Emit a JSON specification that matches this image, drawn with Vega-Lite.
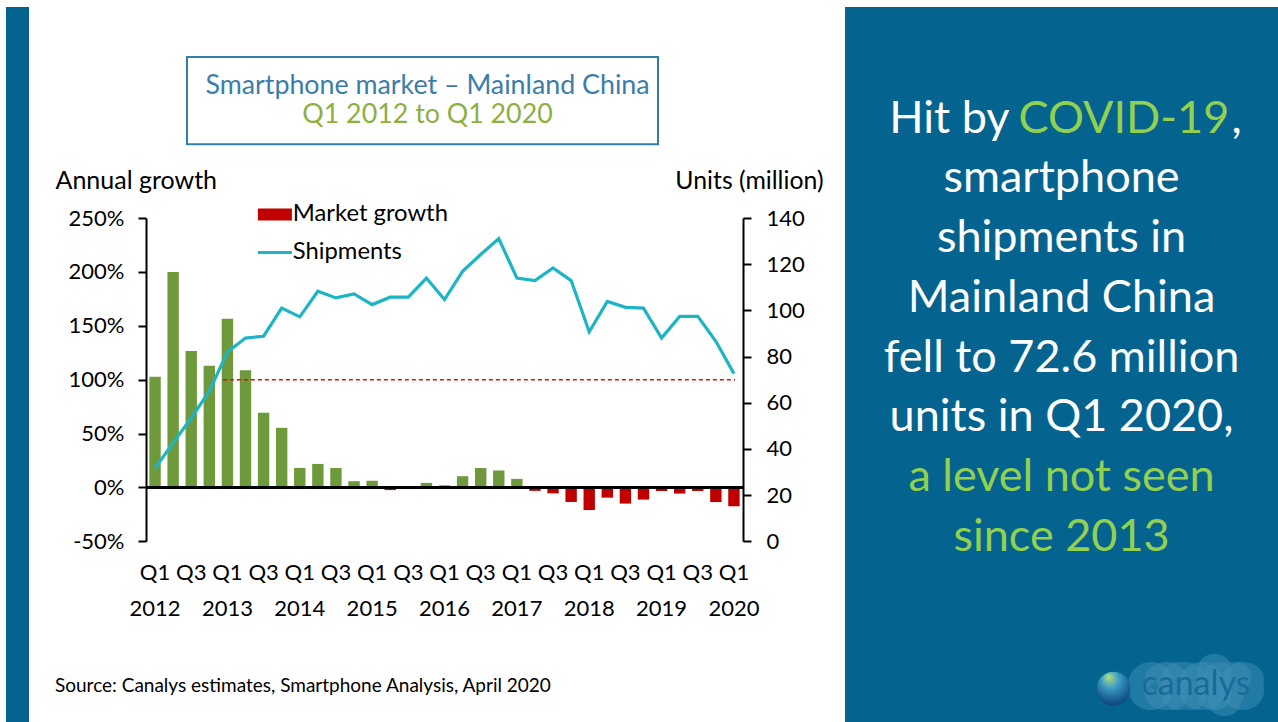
{
  "$schema": "https://vega.github.io/schema/vega-lite/v6.json",
  "background": "white",
  "padding": {"left": 6, "top": 7, "right": 0, "bottom": 0},
  "config": {
    "font": "Lato",
    "view": {"stroke": null},
    "axis": {"grid": false, "labelColor": "#000", "titleColor": "#000", "labelFont": "Lato", "titleFont": "Lato"}
  },
  "datasets": {
    "quarters": [
      {"quarter": "Q1 2012", "growth": 102.6, "shipments": 31.7},
      {"quarter": "Q2 2012", "growth": 200.0, "shipments": 42.6},
      {"quarter": "Q3 2012", "growth": 126.5, "shipments": 53.4},
      {"quarter": "Q4 2012", "growth": 112.8, "shipments": 65.0},
      {"quarter": "Q1 2013", "growth": 156.5, "shipments": 82.0},
      {"quarter": "Q2 2013", "growth": 108.8, "shipments": 88.0},
      {"quarter": "Q3 2013", "growth": 69.2, "shipments": 88.8},
      {"quarter": "Q4 2013", "growth": 55.3, "shipments": 101.0},
      {"quarter": "Q1 2014", "growth": 18.1, "shipments": 97.2},
      {"quarter": "Q2 2014", "growth": 21.8, "shipments": 108.3},
      {"quarter": "Q3 2014", "growth": 18.0, "shipments": 105.4},
      {"quarter": "Q4 2014", "growth": 5.8, "shipments": 107.1},
      {"quarter": "Q1 2015", "growth": 6.2, "shipments": 102.5},
      {"quarter": "Q2 2015", "growth": -2.5, "shipments": 105.7},
      {"quarter": "Q3 2015", "growth": 0.3, "shipments": 105.7},
      {"quarter": "Q4 2015", "growth": 4.2, "shipments": 114.0},
      {"quarter": "Q1 2016", "growth": 2.0, "shipments": 104.7},
      {"quarter": "Q2 2016", "growth": 10.4, "shipments": 116.9},
      {"quarter": "Q3 2016", "growth": 18.0, "shipments": 124.2},
      {"quarter": "Q4 2016", "growth": 15.7, "shipments": 131.1},
      {"quarter": "Q1 2017", "growth": 7.9, "shipments": 114.0},
      {"quarter": "Q2 2017", "growth": -3.2, "shipments": 112.9},
      {"quarter": "Q3 2017", "growth": -5.5, "shipments": 118.4},
      {"quarter": "Q4 2017", "growth": -13.5, "shipments": 112.9},
      {"quarter": "Q1 2018", "growth": -21.0, "shipments": 90.7},
      {"quarter": "Q2 2018", "growth": -9.5, "shipments": 103.9},
      {"quarter": "Q3 2018", "growth": -15.0, "shipments": 101.3},
      {"quarter": "Q4 2018", "growth": -11.3, "shipments": 101.0},
      {"quarter": "Q1 2019", "growth": -3.3, "shipments": 88.0},
      {"quarter": "Q2 2019", "growth": -5.7, "shipments": 97.4},
      {"quarter": "Q3 2019", "growth": -3.3, "shipments": 97.4},
      {"quarter": "Q4 2019", "growth": -13.6, "shipments": 86.6},
      {"quarter": "Q1 2020", "growth": -17.5, "shipments": 72.6}
    ],
    "panel": [
      {"line": 1, "text": "Hit by"},
      {"line": 1, "text": "COVID-19"},
      {"line": 1, "text": ","},
      {"line": 2, "text": "smartphone"},
      {"line": 3, "text": "shipments in"},
      {"line": 4, "text": "Mainland China"},
      {"line": 5, "text": "fell to 72.6 million"},
      {"line": 6, "text": "units in Q1 2020,"},
      {"line": 7, "text": "a level not seen"},
      {"line": 8, "text": "since 2013"}
    ]
  },
  "spacing": 26,
  "hconcat": [
    {
      "width": 23,
      "height": 715,
      "view": {"fill": "#04648F", "stroke": null},
      "data": {"values": []},
      "mark": "point"
    },
    {
      "spacing": 22,
      "hconcat": [
        {
          "spacing": 0,
          "vconcat": [
            {"width": 1, "height": 48.7, "data": {"values": []}, "mark": "point"},
            {
              "spacing": 0,
              "hconcat": [
                {"width": 40, "height": 1, "data": {"values": []}, "mark": "point"},
                {
                  "width": 471,
                  "height": 87.3,
                  "view": {"stroke": "#2F7FA6", "strokeWidth": 2, "fill": "white"},
                  "data": {"values": [
                    {"row": 1, "text": "Smartphone market – Mainland China"},
                    {"row": 2, "text": "Q1 2012 to Q1 2020"}
                  ]},
                  "mark": {"type": "text", "fontSize": 26.8, "baseline": "alphabetic", "dx": 5},
                  "encoding": {
                    "y": {"field": "row", "type": "ordinal", "axis": null, "scale": {"range": [36.6, 66], "padding": 0}},
                    "text": {"field": "text"},
                    "color": {"condition": {"test": "datum.row == 1", "value": "#3B7DAA"}, "value": "#8DAF3F"}
                  }
                }
              ]
            },
            {"width": 1, "height": 21.5, "data": {"values": []}, "mark": "point"},
            {
              "width": 597,
              "height": 323.3,
              "data": {"name": "quarters"},
              "title": {
                "text": "Source: Canalys estimates, Smartphone Analysis, April 2020",
                "orient": "bottom", "anchor": "start", "frame": "group",
                "dx": -91, "offset": 58, "fontSize": 19, "fontWeight": "normal", "color": "#000", "font": "Lato"
              },
              "layer": [
                {
                  "layer": [
                    {
                      "mark": {"type": "bar"},
                      "encoding": {
                        "x": {
                          "field": "quarter", "type": "ordinal",
                          "scale": {
                            "domain": ["Q1 2012","Q2 2012","Q3 2012","Q4 2012","Q1 2013","Q2 2013","Q3 2013","Q4 2013","Q1 2014","Q2 2014","Q3 2014","Q4 2014","Q1 2015","Q2 2015","Q3 2015","Q4 2015","Q1 2016","Q2 2016","Q3 2016","Q4 2016","Q1 2017","Q2 2017","Q3 2017","Q4 2017","Q1 2018","Q2 2018","Q3 2018","Q4 2018","Q1 2019","Q2 2019","Q3 2019","Q4 2019","Q1 2020"],
                            "paddingInner": 0.37, "paddingOuter": 0.185
                          },
                          "axis": {
                            "orient": "bottom", "title": null, "domain": false, "ticks": false,
                            "labelAngle": 0, "labelFontSize": 22, "labelBaseline": "top",
                            "labelPadding": 21, "labelLineHeight": 36, "labelOverlap": false,
                            "labelExpr": "substring(datum.label,0,2) == 'Q1' ? ['Q1', substring(datum.label,3,7)] : (substring(datum.label,0,2) == 'Q3' ? 'Q3' : '')"
                          }
                        },
                        "y": {
                          "field": "growth", "type": "quantitative",
                          "scale": {"domain": [-50, 250], "nice": false},
                          "axis": {
                            "orient": "left", "values": [-50, 0, 50, 100, 150, 200, 250],
                            "labelExpr": "datum.value + '%'",
                            "domainColor": "#000", "domainWidth": 2, "tickColor": "#000", "tickWidth": 2, "tickSize": 8,
                            "labelPadding": 14, "labelFontSize": 22,
                            "title": "Annual growth", "titleAngle": 0, "titleAlign": "left", "titleBaseline": "alphabetic",
                            "titleX": -91, "titleY": -30, "titleFontSize": 25, "titleFontWeight": "normal"
                          }
                        },
                        "color": {
                          "datum": "Market growth", "type": "nominal",
                          "condition": {"test": "datum.growth >= 0", "value": "#6F9A3C"},
                          "scale": {"domain": ["Market growth", "Shipments"], "range": ["#C00000", "#1DB4C5"]},
                          "legend": {
                            "orient": "none", "legendX": 257, "legendY": 195.5, "title": null, "direction": "vertical",
                            "symbolType": "stroke", "symbolSize": 1156, "symbolStrokeWidth": 3,
                            "labelFontSize": 23.8, "labelColor": "#000", "labelOffset": 6, "labelLimit": 300,
                            "rowPadding": 1, "padding": 0,
                            "encode": {
                              "symbols": {
                                "update": {
                                  "strokeWidth": {"signal": "datum.value === 'Market growth' ? 12 : 3"},
                                  "stroke": {"signal": "datum.value === 'Market growth' ? '#C00000' : '#1DB4C5'"},
                                  "strokeCap": {"value": "butt"}
                                }
                              }
                            }
                          }
                        }
                      }
                    },
                    {
                      "mark": {"type": "rule", "color": "#000", "strokeWidth": 2},
                      "encoding": {"y": {"datum": 0, "type": "quantitative"}}
                    },
                    {
                      "data": {"values": [{"from": "Q1 2013", "to": "Q1 2020", "level": 100}]},
                      "mark": {"type": "rule", "color": "#E01010", "strokeWidth": 1.5, "strokeDash": [4, 3]},
                      "encoding": {
                        "x": {"field": "from", "type": "ordinal", "bandPosition": 0.1},
                        "x2": {"field": "to", "bandPosition": 0.6},
                        "y": {"field": "level", "type": "quantitative"}
                      }
                    }
                  ]
                },
                {
                  "mark": {"type": "line", "strokeWidth": 3.2},
                  "encoding": {
                    "x": {"field": "quarter", "type": "ordinal"},
                    "y": {
                      "field": "shipments", "type": "quantitative",
                      "scale": {"domain": [0, 140], "nice": false},
                      "axis": {
                        "orient": "right", "values": [0, 20, 40, 60, 80, 100, 120, 140],
                        "domainColor": "#000", "domainWidth": 2, "tickColor": "#000", "tickWidth": 2, "tickSize": 8,
                        "labelPadding": 15, "labelFontSize": 22,
                        "title": "Units (million)", "titleAngle": 0, "titleAlign": "right", "titleBaseline": "alphabetic",
                        "titleX": 80, "titleY": -30, "titleFontSize": 24.8, "titleFontWeight": "normal"
                      }
                    },
                    "color": {"datum": "Shipments", "type": "nominal"}
                  }
                }
              ],
              "resolve": {"scale": {"y": "independent"}}
            }
          ]
        },
        {
          "width": 433,
          "height": 715,
          "view": {"fill": "#04648F", "stroke": null},
          "data": {"name": "panel"},
          "layer": [
            {
              "transform": [{"filter": "datum.line >= 2"}],
              "mark": {"type": "text", "fontSize": 45, "baseline": "alphabetic"},
              "encoding": {
                "y": {"field": "line", "type": "quantitative", "axis": null, "scale": {"domain": [1, 8], "range": [125.7, 543.7]}},
                "text": {"field": "text"},
                "color": {"condition": {"test": "datum.line >= 7", "value": "#92D050"}, "value": "#FFFFFF"}
              }
            },
            {
              "transform": [{"filter": "datum.text == 'Hit by'"}],
              "mark": {"type": "text", "fontSize": 45, "baseline": "alphabetic", "align": "right", "dx": -52, "color": "#FFFFFF"},
              "encoding": {
                "y": {"field": "line", "type": "quantitative", "axis": null},
                "text": {"field": "text"}
              }
            },
            {
              "transform": [{"filter": "datum.text == 'COVID-19'"}],
              "mark": {"type": "text", "fontSize": 45, "baseline": "alphabetic", "align": "left", "dx": -43, "color": "#92D050"},
              "encoding": {
                "y": {"field": "line", "type": "quantitative", "axis": null},
                "text": {"field": "text"}
              }
            },
            {
              "transform": [{"filter": "datum.text == ','"}],
              "mark": {"type": "text", "fontSize": 45, "baseline": "alphabetic", "align": "left", "dx": 170, "color": "#FFFFFF"},
              "encoding": {
                "y": {"field": "line", "type": "quantitative", "axis": null},
                "text": {"field": "text"}
              }
            },
            {
              "data": {"values": [{"brand": "canalys"}]},
              "mark": {"type": "text", "fontSize": 34, "baseline": "alphabetic", "align": "left", "dx": 80, "dy": 144.3,
                       "color": "#4B98C0", "stroke": "#4B98C0", "strokeWidth": 30, "strokeOpacity": 0.5, "opacity": 0.85, "strokeJoin": "round"},
              "encoding": {"y": {"datum": 8, "type": "quantitative"}, "text": {"field": "brand"}}
            },
            {
              "data": {"values": [{"brand": "canalys"}]},
              "mark": {"type": "text", "fontSize": 34, "baseline": "alphabetic", "align": "left", "dx": 80, "dy": 144.3, "color": "#1A6A98"},
              "encoding": {"y": {"datum": 8, "type": "quantitative"}, "text": {"field": "brand"}}
            },
            {
              "data": {"values": [{"brand": "canalys"}]},
              "mark": {"type": "text", "font": "DejaVu Sans", "fontSize": 44, "baseline": "middle", "align": "center", "dx": 52, "dy": 136,
                       "color": {"gradient": "radial", "x1": 0.4, "y1": 0.35, "r1": 0, "x2": 0.5, "y2": 0.5, "r2": 0.5,
                                 "stops": [{"offset": 0, "color": "#B5E07A"}, {"offset": 0.35, "color": "#3E9CC4"}, {"offset": 0.75, "color": "#14588F"}, {"offset": 1, "color": "#0A3560"}]}},
              "encoding": {"y": {"datum": 8, "type": "quantitative"}, "text": {"value": "●"}}
            }
          ]
        }
      ]
    }
  ]
}
